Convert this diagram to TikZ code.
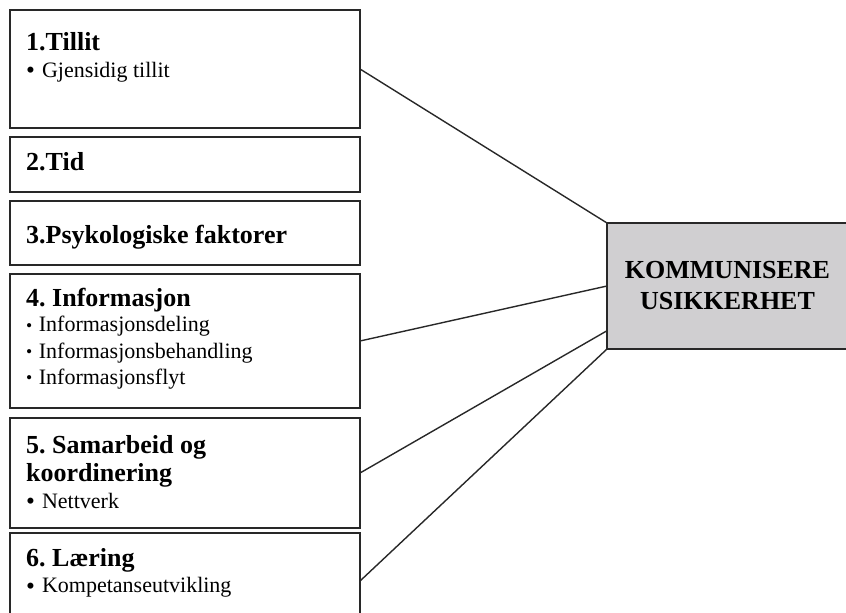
\documentclass[tikz,border=0pt]{standalone}
\usepackage{fontspec}
\setmainfont{Liberation Serif}
\usetikzlibrary{calc}
\frenchspacing

\definecolor{edge}{RGB}{40,40,40}
\definecolor{corefill}{RGB}{208,207,209}

% bullet glyphs for the item lists
\newcommand{\bigdot}{\raisebox{-1.5pt}{\scalebox{1.15}{•}}\hspace{7pt}}
\newcommand{\smalldot}{\raisebox{0.5pt}{\scalebox{0.8}{•}}\hspace{6.5pt}}

\tikzset{
  leftbox/.style={draw=edge, line width=1.8pt, rectangle, minimum width=350pt,
    inner sep=0pt, outer sep=0pt},
  corebox/.style={draw=edge, line width=1.8pt, fill=corefill, rectangle,
    minimum width=241pt, minimum height=126pt, inner sep=0pt, outer sep=0pt,
    align=center, font=\bfseries\fontsize{26}{31}\selectfont},
  titletext/.style={anchor=base west, inner sep=0pt, font=\bfseries\fontsize{26}{30}\selectfont},
  itemtext/.style={anchor=base west, inner sep=0pt, font=\fontsize{22}{26}\selectfont},
  link/.style={draw=edge, line width=1.4pt}
}

\begin{document}
\begin{tikzpicture}[x=1pt, y=-1pt]
  \useasboundingbox (0,0) rectangle (846,613);
  \clip (0,0) rectangle (846,613);

  % factor boxes on the left
  \node[leftbox, minimum height=118pt] (b1) at (185,69) {};
  \node[leftbox, minimum height=55pt]  (b2) at (185,164.5) {};
  \node[leftbox, minimum height=64pt]  (b3) at (185,233) {};
  \node[leftbox, minimum height=134pt] (b4) at (185,341) {};
  \node[leftbox, minimum height=110pt] (b5) at (185,473) {};
  \node[leftbox, minimum height=96pt]  (b6) at (185,581) {};

  % central box
  \node[corebox] (core) at (727.5,286) {KOMMUNISERE\\USIKKERHET};

  % box texts
  \node[titletext] (t1) at (26,50) {1.Tillit};
  \node[itemtext]  (i1) at (26,77.3) {\bigdot Gjensidig tillit};

  \node[titletext] (t2) at (26,170) {2.Tid};

  \node[titletext] (t3) at (26,243.3) {3.Psykologiske faktorer};

  \node[titletext] (t4) at (26,306.7) {4. Informasjon};
  \node[itemtext]  (i4a) at (26,331.7) {\smalldot Informasjonsdeling};
  \node[itemtext]  (i4b) at (26,358.3) {\smalldot Informasjonsbehandling};
  \node[itemtext]  (i4c) at (26,384) {\smalldot Informasjonsflyt};

  \node[titletext] (t5a) at (26,453.3) {5. Samarbeid og};
  \node[titletext] (t5b) at (26,481.7) {koordinering};
  \node[itemtext]  (i5) at (26,508.3) {\bigdot Nettverk};

  \node[titletext] (t6) at (26,566.7) {6. Læring};
  \node[itemtext]  (i6) at (26,592.7) {\bigdot Kompetanseutvikling};

  % connectors into the central box
  \draw[link] (b1.east) -- (core.north west);
  \draw[link] (b4.east) -- (core.west);
  \draw[link] (b5.east) -- ($(core.west)!0.71!(core.south west)$);
  \draw[link] (b6.east) -- (core.south west);
\end{tikzpicture}
\end{document}
